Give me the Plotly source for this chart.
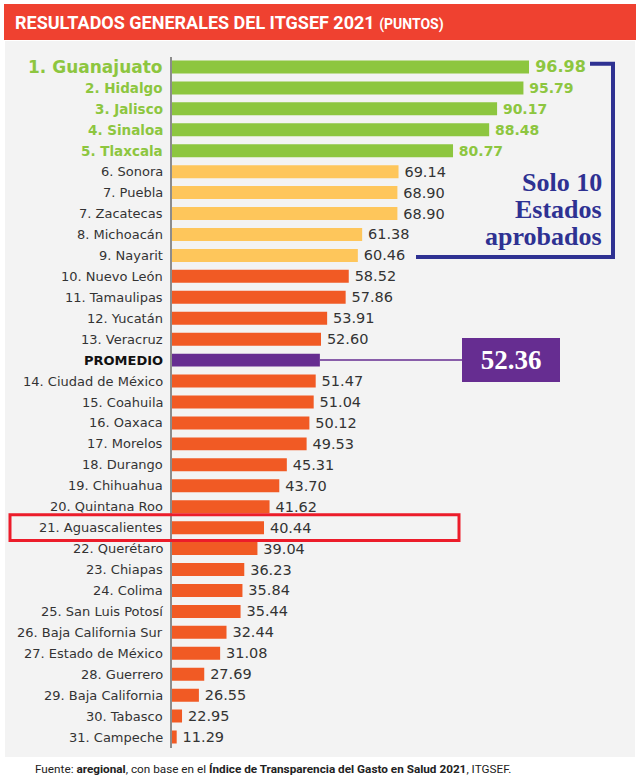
import plotly.graph_objects as go

labels = ["1. Guanajuato", "2. Hidalgo", "3. Jalisco", "4. Sinaloa", "5. Tlaxcala",
          "6. Sonora", "7. Puebla", "7. Zacatecas", "8. Michoacán", "9. Nayarit",
          "10. Nuevo León", "11. Tamaulipas", "12. Yucatán", "13. Veracruz", "PROMEDIO",
          "14. Ciudad de México", "15. Coahuila", "16. Oaxaca", "17. Morelos", "18. Durango",
          "19. Chihuahua", "20. Quintana Roo", "21. Aguascalientes", "22. Querétaro",
          "23. Chiapas", "24. Colima", "25. San Luis Potosí", "26. Baja California Sur",
          "27. Estado de México", "28. Guerrero", "29. Baja California", "30. Tabasco",
          "31. Campeche"]
values = [96.98, 95.79, 90.17, 88.48, 80.77, 69.14, 68.90, 68.90, 61.38, 60.46,
          58.52, 57.86, 53.91, 52.60, 52.36, 51.47, 51.04, 50.12, 49.53, 45.31,
          43.70, 41.62, 40.44, 39.04, 36.23, 35.84, 35.44, 32.44, 31.08, 27.69,
          26.55, 22.95, 11.29]
groups = (["top"] * 5 + ["aprobado"] * 5 + ["reprobado"] * 4 + ["promedio"]
          + ["reprobado"] * 18)
highlight = "21. Aguascalientes"
title = "RESULTADOS GENERALES DEL ITGSEF 2021"
subtitle = "(PUNTOS)"
callout = ["Solo 10", "Estados", "aprobados"]
source = ("Fuente: <b>aregional</b>, con base en el <b>Índice de Transparencia del Gasto "
          "en Salud 2021</b>, ITGSEF.")

W, H = 640, 779
X_MIN, X_MAX = 20.81, 120.66
GREEN, YELLOW, ORANGE, PURPLE = "#8dc63f", "#fec65b", "#f15a24", "#662d91"
NAVY, RED_T, RED_H, GRAY_T = "#2e3192", "#ef4130", "#ec1c2a", "#333333"

SANS = "DejaVu Sans, Arial, sans-serif"
NARROW = "Roboto, Arial, sans-serif"
SERIF = "Liberation Serif, DejaVu Serif, serif"

colors = {"top": GREEN, "aprobado": YELLOW, "reprobado": ORANGE, "promedio": PURPLE}
ys = list(range(len(labels)))
bar_x = [max(v, X_MIN + 1.0) for v in values]
bar_col = [colors[g] for g in groups]
texts, tsize, tcol = [], [], []
for i, (v, g) in enumerate(zip(values, groups)):
    if g == "promedio":
        texts.append("")
    elif g == "top":
        texts.append(f"\u2009<b>{v:.2f}</b>")
    else:
        texts.append(f"\u2009{v:.2f}")
    tsize.append(16 if i == 0 else (14 if g == "top" else 14.5))
    tcol.append(GREEN if g == "top" else GRAY_T)

fig = go.Figure(go.Bar(
    x=bar_x, y=ys, orientation="h", marker=dict(color=bar_col, line=dict(width=0)),
    text=texts, textposition="outside", constraintext="none", cliponaxis=False,
    textfont=dict(family=SANS, size=tsize, color=tcol), hoverinfo="skip",
))

y_top = 1 - 56.5 / H
y_bot = 1 - 747.5 / H
fig.update_layout(
    width=W, height=H, margin=dict(l=0, r=0, t=0, b=0),
    paper_bgcolor="white", plot_bgcolor="rgba(0,0,0,0)", showlegend=False, bargap=0.38,
    xaxis=dict(domain=[172 / W, 1], range=[X_MIN, X_MAX], visible=False, fixedrange=True),
    yaxis=dict(domain=[y_bot, y_top], range=[len(labels) - 0.5, -0.5], showticklabels=False,
               showgrid=False, zeroline=False, showline=True, linecolor="#8c8c8c",
               linewidth=2, ticks=""),
)

shapes = [
    dict(type="rect", xref="paper", yref="paper", x0=5 / W, x1=635 / W, y0=1 - 757 / H,
         y1=1 - 41 / H, fillcolor="#f3f3f3", line=dict(width=0), layer="below"),
    dict(type="rect", xref="paper", yref="paper", x0=4 / W, x1=636 / W, y0=1 - 40 / H,
         y1=1 - 4 / H, fillcolor=RED_T, line=dict(width=0), layer="below"),
]
hi = labels.index(highlight)
shapes.append(dict(type="rect", xref="paper", yref="y", x0=10 / W, x1=459 / W,
                   y0=hi - 0.62, y1=hi + 0.62, line=dict(color=RED_H, width=3)))
last_ok = max(i for i, g in enumerate(groups) if g in ("top", "aprobado"))
shapes.append(dict(type="path", xref="paper", yref="y",
                   path=f"M {590 / W},{-0.15} H {613 / W} V {last_ok + 0.07} H {416 / W}",
                   line=dict(color=NAVY, width=4)))
fig.update_layout(shapes=shapes)

ann = []
for i, (lab, g) in enumerate(zip(labels, groups)):
    if g == "top":
        txt, size, col = f"<b>{lab}</b>", (17 if i == 0 else 13.5), GREEN
    elif g == "promedio":
        txt, size, col = f"<b>{lab}</b>", 13, "#111111"
    else:
        txt, size, col = lab, 13, GRAY_T
    ann.append(dict(xref="paper", yref="y", x=165 / W, y=i, xanchor="right", yanchor="middle",
                    text=txt, showarrow=False, font=dict(family=SANS, size=size, color=col)))

pi = groups.index("promedio")
ann.append(dict(xref="x", yref="y", x=values[pi], y=pi, text=f"<b>{values[pi]:.2f}</b>",
                showarrow=True, arrowhead=0, arrowwidth=1.5, arrowcolor=PURPLE,
                ax=511 - (172 + (values[pi] - X_MIN) * (W - 172) / (X_MAX - X_MIN)), ay=0,
                standoff=0, bgcolor=PURPLE, borderpad=2, borderwidth=0, width=94, height=40,
                font=dict(family=SERIF, size=27, color="white")))

for k, (line, ypx) in enumerate(zip(callout, [182, 209, 237])):
    ann.append(dict(xref="paper", yref="paper", x=604 / W, y=1 - ypx / H, xanchor="right",
                    yanchor="middle", text=f"<b>{line}</b>", showarrow=False,
                    font=dict(family=SERIF, size=26, color=NAVY)))

ann.append(dict(xref="paper", yref="paper", x=13 / W, y=1 - 22 / H, xanchor="left",
                yanchor="middle", showarrow=False,
                text=f"<b>{title}</b> <b><span style='font-size:14px'>{subtitle}</span></b>",
                font=dict(family=NARROW, size=18, color="white")))
ann.append(dict(xref="paper", yref="paper", x=33 / W, y=1 - 769 / H, xanchor="left",
                yanchor="middle", showarrow=False, text=source,
                font=dict(family=NARROW, size=11.75, color="#222222")))
fig.update_layout(annotations=ann)

fig.write_html("out.html")
